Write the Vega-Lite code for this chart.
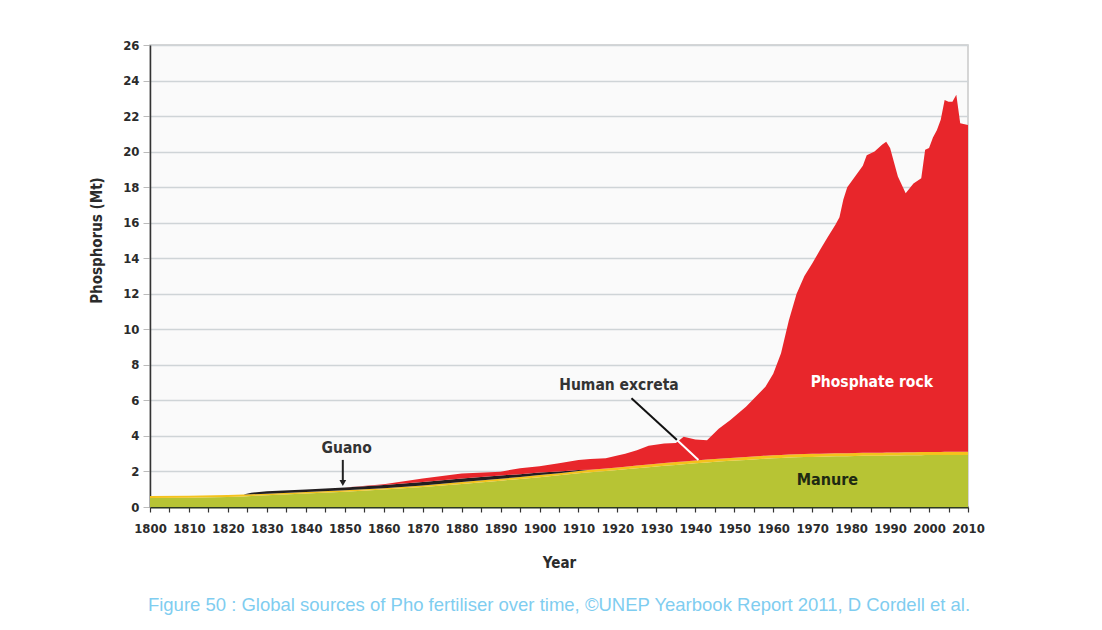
{
  "$schema": "https://vega.github.io/schema/vega-lite/v6.json",
  "width": 818,
  "height": 462,
  "autosize": {"type": "none"},
  "padding": {"left": 150, "top": 45, "right": 134, "bottom": 123},
  "background": "#ffffff",
  "config": {
    "view": {"stroke": "#c9c9c9", "strokeWidth": 1.5, "fill": "#fafafa"},
    "font": "DejaVu Sans Condensed",
    "axis": {"labelOverlap": false, "labelFlush": false},
    "axisX": {
      "labelFontSize": 13,
      "labelFontWeight": "bold",
      "labelColor": "#2b2b2b",
      "labelPadding": 10,
      "tickSize": 5,
      "tickColor": "#333333",
      "tickWidth": 1.2,
      "domainColor": "#2e3a22",
      "domainWidth": 2,
      "grid": false,
      "titleFontSize": 15,
      "titleFontWeight": "bold",
      "titleColor": "#2b2b2b",
      "titlePadding": 20
    },
    "axisY": {
      "labelFontSize": 13,
      "labelFontWeight": "bold",
      "labelColor": "#2b2b2b",
      "labelPadding": 4,
      "tickSize": 7,
      "tickColor": "#bbbbbb",
      "domainColor": "#333333",
      "domainWidth": 1.5,
      "grid": true,
      "gridColor": "#cfd4d7",
      "gridWidth": 1.5,
      "titleFontSize": 15,
      "titleFontWeight": "bold",
      "titleColor": "#2b2b2b"
    }
  },
  "title": {
    "text": "Figure 50 : Global sources of Pho  fertiliser over time, ©UNEP Yearbook Report 2011, D Cordell et al.",
    "orient": "bottom",
    "anchor": "middle",
    "color": "#7fcdf0",
    "font": "Liberation Sans",
    "fontSize": 18.5,
    "fontWeight": "normal",
    "offset": 26
  },
  "datasets": {
    "series": [
      {"year": 1800, "manure": 0.50, "excreta": 0.12, "guano": 0, "rock": 0},
      {"year": 1810, "manure": 0.52, "excreta": 0.12, "guano": 0, "rock": 0},
      {"year": 1820, "manure": 0.56, "excreta": 0.12, "guano": 0, "rock": 0},
      {"year": 1824, "manure": 0.59, "excreta": 0.12, "guano": 0, "rock": 0},
      {"year": 1826, "manure": 0.62, "excreta": 0.10, "guano": 0.08, "rock": 0},
      {"year": 1830, "manure": 0.66, "excreta": 0.08, "guano": 0.14, "rock": 0},
      {"year": 1840, "manure": 0.76, "excreta": 0.08, "guano": 0.15, "rock": 0},
      {"year": 1850, "manure": 0.86, "excreta": 0.08, "guano": 0.16, "rock": 0},
      {"year": 1860, "manure": 0.98, "excreta": 0.08, "guano": 0.18, "rock": 0.04},
      {"year": 1870, "manure": 1.12, "excreta": 0.09, "guano": 0.20, "rock": 0.20},
      {"year": 1880, "manure": 1.30, "excreta": 0.10, "guano": 0.20, "rock": 0.28},
      {"year": 1890, "manure": 1.48, "excreta": 0.11, "guano": 0.18, "rock": 0.22},
      {"year": 1895, "manure": 1.58, "excreta": 0.11, "guano": 0.16, "rock": 0.33},
      {"year": 1900, "manure": 1.68, "excreta": 0.12, "guano": 0.14, "rock": 0.36},
      {"year": 1905, "manure": 1.78, "excreta": 0.12, "guano": 0.10, "rock": 0.46},
      {"year": 1910, "manure": 1.90, "excreta": 0.13, "guano": 0.05, "rock": 0.56},
      {"year": 1913, "manure": 1.96, "excreta": 0.14, "guano": 0, "rock": 0.60},
      {"year": 1917, "manure": 2.03, "excreta": 0.14, "guano": 0, "rock": 0.57},
      {"year": 1920, "manure": 2.08, "excreta": 0.15, "guano": 0, "rock": 0.67},
      {"year": 1922, "manure": 2.12, "excreta": 0.15, "guano": 0, "rock": 0.73},
      {"year": 1925, "manure": 2.18, "excreta": 0.15, "guano": 0, "rock": 0.87},
      {"year": 1928, "manure": 2.24, "excreta": 0.15, "guano": 0, "rock": 1.06},
      {"year": 1932, "manure": 2.32, "excreta": 0.16, "guano": 0, "rock": 1.10},
      {"year": 1935, "manure": 2.37, "excreta": 0.16, "guano": 0, "rock": 1.07},
      {"year": 1937, "manure": 2.40, "excreta": 0.16, "guano": 0, "rock": 1.39},
      {"year": 1940, "manure": 2.46, "excreta": 0.16, "guano": 0, "rock": 1.18},
      {"year": 1943, "manure": 2.51, "excreta": 0.16, "guano": 0, "rock": 1.08},
      {"year": 1946, "manure": 2.56, "excreta": 0.16, "guano": 0, "rock": 1.68},
      {"year": 1949, "manure": 2.60, "excreta": 0.16, "guano": 0, "rock": 2.14},
      {"year": 1953, "manure": 2.65, "excreta": 0.17, "guano": 0, "rock": 2.82},
      {"year": 1958, "manure": 2.72, "excreta": 0.17, "guano": 0, "rock": 3.88},
      {"year": 1960, "manure": 2.74, "excreta": 0.17, "guano": 0, "rock": 4.59},
      {"year": 1962, "manure": 2.76, "excreta": 0.17, "guano": 0, "rock": 5.72},
      {"year": 1964, "manure": 2.78, "excreta": 0.17, "guano": 0, "rock": 7.55},
      {"year": 1966, "manure": 2.80, "excreta": 0.17, "guano": 0, "rock": 9.03},
      {"year": 1968, "manure": 2.81, "excreta": 0.17, "guano": 0, "rock": 10.02},
      {"year": 1970, "manure": 2.82, "excreta": 0.17, "guano": 0, "rock": 10.71},
      {"year": 1972, "manure": 2.83, "excreta": 0.17, "guano": 0, "rock": 11.46},
      {"year": 1974, "manure": 2.84, "excreta": 0.17, "guano": 0, "rock": 12.19},
      {"year": 1976, "manure": 2.85, "excreta": 0.17, "guano": 0, "rock": 12.88},
      {"year": 1977, "manure": 2.85, "excreta": 0.17, "guano": 0, "rock": 13.28},
      {"year": 1978, "manure": 2.86, "excreta": 0.17, "guano": 0, "rock": 14.27},
      {"year": 1979, "manure": 2.86, "excreta": 0.17, "guano": 0, "rock": 14.97},
      {"year": 1981, "manure": 2.87, "excreta": 0.17, "guano": 0, "rock": 15.56},
      {"year": 1983, "manure": 2.88, "excreta": 0.17, "guano": 0, "rock": 16.15},
      {"year": 1984, "manure": 2.88, "excreta": 0.17, "guano": 0, "rock": 16.75},
      {"year": 1986, "manure": 2.89, "excreta": 0.17, "guano": 0, "rock": 16.94},
      {"year": 1988, "manure": 2.89, "excreta": 0.17, "guano": 0, "rock": 17.34},
      {"year": 1989, "manure": 2.90, "excreta": 0.17, "guano": 0, "rock": 17.49},
      {"year": 1990, "manure": 2.90, "excreta": 0.17, "guano": 0, "rock": 17.13},
      {"year": 1992, "manure": 2.90, "excreta": 0.17, "guano": 0, "rock": 15.53},
      {"year": 1994, "manure": 2.91, "excreta": 0.17, "guano": 0, "rock": 14.57},
      {"year": 1996, "manure": 2.91, "excreta": 0.17, "guano": 0, "rock": 15.12},
      {"year": 1998, "manure": 2.91, "excreta": 0.18, "guano": 0, "rock": 15.41},
      {"year": 1999, "manure": 2.92, "excreta": 0.18, "guano": 0, "rock": 17.00},
      {"year": 2000, "manure": 2.92, "excreta": 0.18, "guano": 0, "rock": 17.10},
      {"year": 2001, "manure": 2.92, "excreta": 0.18, "guano": 0, "rock": 17.70},
      {"year": 2002, "manure": 2.92, "excreta": 0.18, "guano": 0, "rock": 18.10},
      {"year": 2003, "manure": 2.92, "excreta": 0.18, "guano": 0, "rock": 18.70},
      {"year": 2004, "manure": 2.93, "excreta": 0.18, "guano": 0, "rock": 19.79},
      {"year": 2005, "manure": 2.93, "excreta": 0.18, "guano": 0, "rock": 19.69},
      {"year": 2006, "manure": 2.93, "excreta": 0.18, "guano": 0, "rock": 19.69},
      {"year": 2007, "manure": 2.93, "excreta": 0.18, "guano": 0, "rock": 20.09},
      {"year": 2008, "manure": 2.93, "excreta": 0.18, "guano": 0, "rock": 18.49},
      {"year": 2010, "manure": 2.93, "excreta": 0.18, "guano": 0, "rock": 18.39}
    ]
  },
  "layer": [
    {
      "data": {"name": "series"},
      "transform": [
        {"fold": ["manure", "excreta", "guano", "rock"], "as": ["source", "value"]},
        {
          "lookup": "source",
          "from": {
            "data": {"values": [
              {"source": "manure", "rank": 1},
              {"source": "excreta", "rank": 2},
              {"source": "guano", "rank": 3},
              {"source": "rock", "rank": 4}
            ]},
            "key": "source",
            "fields": ["rank"]
          }
        }
      ],
      "mark": {"type": "area", "interpolate": "linear"},
      "encoding": {
        "x": {
          "field": "year",
          "type": "quantitative",
          "scale": {"domain": [1800, 2010], "nice": false, "zero": false},
          "axis": {
            "title": "Year",
            "tickCount": 42,
            "format": "d",
            "labelExpr": "datum.value % 10 == 0 ? datum.label : ''",
            "labelOverlap": false
          }
        },
        "y": {
          "field": "value",
          "type": "quantitative",
          "stack": "zero",
          "scale": {"domain": [0, 26], "nice": false},
          "axis": {
            "title": "Phosphorus (Mt)",
            "tickCount": 13,
            "labelOverlap": false,
            "titleX": -46,
            "titleY": 195
          }
        },
        "color": {
          "field": "source",
          "type": "nominal",
          "scale": {"domain": ["manure", "excreta", "guano", "rock"], "range": ["#b7c434", "#f5c21c", "#231f20", "#e8262b"]},
          "legend": null
        },
        "order": {"field": "rank", "type": "quantitative"}
      }
    },
    {
      "data": {"values": [{"year": 1849.5, "top": 2.65, "bottom": 1.35}]},
      "mark": {"type": "rule", "color": "#222222", "strokeWidth": 2},
      "encoding": {
        "x": {"field": "year", "type": "quantitative"},
        "y": {"field": "top", "type": "quantitative"},
        "y2": {"field": "bottom"}
      }
    },
    {
      "data": {"values": [{"year": 1849.5, "tip": 1.35}]},
      "mark": {"type": "point", "shape": "triangle-down", "filled": true, "color": "#222222", "size": 45, "opacity": 1},
      "encoding": {
        "x": {"field": "year", "type": "quantitative"},
        "y": {"field": "tip", "type": "quantitative"}
      }
    },
    {
      "data": {"values": [{"x1": 1923.6, "y1": 6.12, "x2": 1935.3, "y2": 3.77}]},
      "mark": {"type": "rule", "color": "#111111", "strokeWidth": 2},
      "encoding": {
        "x": {"field": "x1", "type": "quantitative"},
        "y": {"field": "y1", "type": "quantitative"},
        "x2": {"field": "x2"},
        "y2": {"field": "y2"}
      }
    },
    {
      "data": {"values": [{"x1": 1935.3, "y1": 3.77, "x2": 1940.8, "y2": 2.65}]},
      "mark": {"type": "rule", "color": "#ffffff", "strokeWidth": 2},
      "encoding": {
        "x": {"field": "x1", "type": "quantitative"},
        "y": {"field": "y1", "type": "quantitative"},
        "x2": {"field": "x2"},
        "y2": {"field": "y2"}
      }
    },
    {
      "data": {"values": [
        {"year": 1850.5, "value": 3.3, "label": "Guano"},
        {"year": 1920.4, "value": 6.87, "label": "Human excreta"}
      ]},
      "mark": {"type": "text", "font": "DejaVu Sans Condensed", "fontSize": 15.5, "fontWeight": "bold", "color": "#333333", "align": "center", "baseline": "middle"},
      "encoding": {
        "x": {"field": "year", "type": "quantitative"},
        "y": {"field": "value", "type": "quantitative"},
        "text": {"field": "label"}
      }
    },
    {
      "data": {"values": [{"year": 1985.3, "value": 7.05, "label": "Phosphate rock"}]},
      "mark": {"type": "text", "font": "DejaVu Sans Condensed", "fontSize": 15.5, "fontWeight": "bold", "color": "#ffffff", "align": "center", "baseline": "middle"},
      "encoding": {
        "x": {"field": "year", "type": "quantitative"},
        "y": {"field": "value", "type": "quantitative"},
        "text": {"field": "label"}
      }
    },
    {
      "data": {"values": [{"year": 1973.9, "value": 1.52, "label": "Manure"}]},
      "mark": {"type": "text", "font": "DejaVu Sans Condensed", "fontSize": 16, "fontWeight": "bold", "color": "#1e2a12", "align": "center", "baseline": "middle"},
      "encoding": {
        "x": {"field": "year", "type": "quantitative"},
        "y": {"field": "value", "type": "quantitative"},
        "text": {"field": "label"}
      }
    }
  ]
}
